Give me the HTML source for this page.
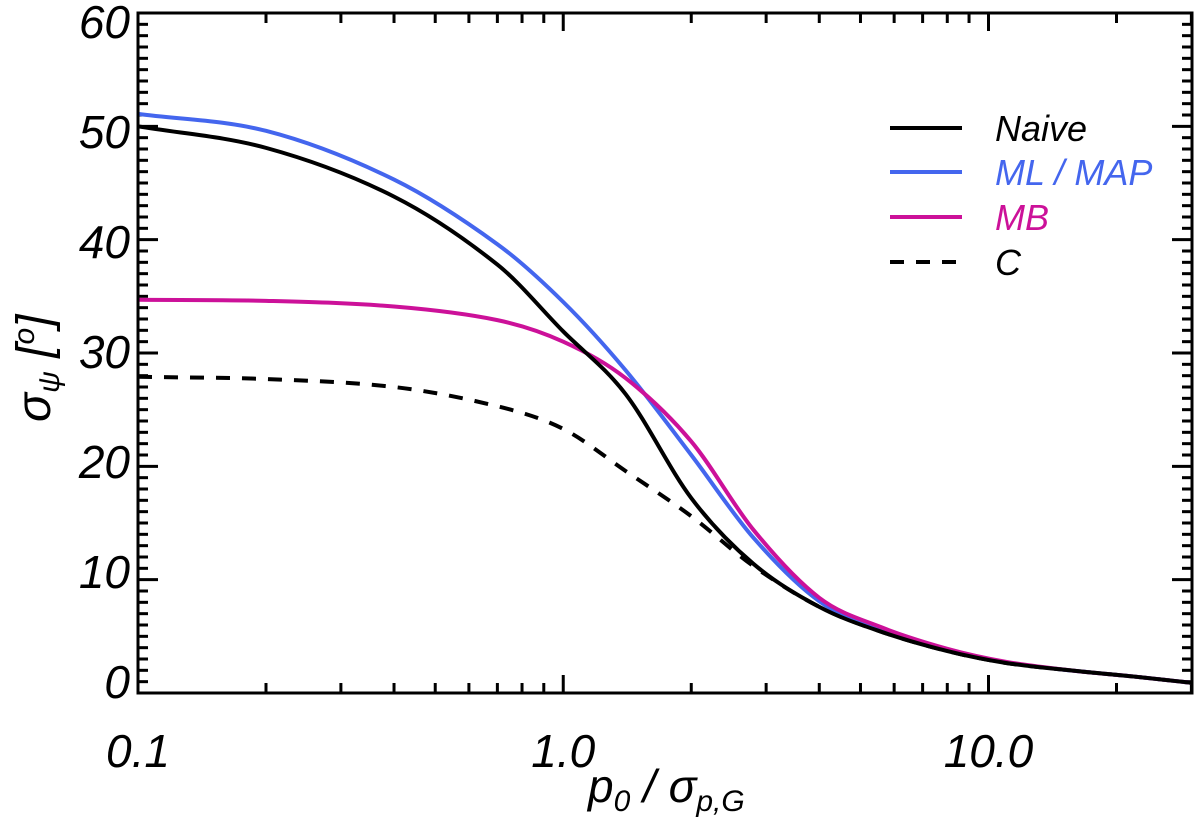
<!DOCTYPE html>
<html><head><meta charset="utf-8"><style>
html,body{margin:0;padding:0;background:#fff;}
svg{display:block;font-family:"Liberation Sans",sans-serif;font-style:italic;}
</style></head><body>
<svg id="chart" width="1200" height="828">
<g id="plot"></g>
<text x="588" y="802" font-size="46">p<tspan font-size="30" dy="9">0</tspan><tspan dy="-9"> / σ</tspan><tspan font-size="30" dy="9">p,G</tspan></text>
<text transform="translate(50,422) rotate(-90)" font-size="48">σ<tspan font-size="30" dy="9">ψ</tspan><tspan dy="-9"> [</tspan><tspan font-size="30" dy="-16">o</tspan><tspan dy="16">]</tspan></text>
</svg>
<script>
const xs = [0.1,0.2,0.4,0.7,1.0,1.4,2.0,2.8,4.0,5.6,8.0,11,16,22,30];
const naive = [50.0,48.1,43.8,37.8,31.9,26.4,17.2,11.4,7.6,5.4,3.7,2.65,1.95,1.45,0.9];
const mlmap = [51.1,49.6,45.3,39.6,34.5,28.5,21.0,13.7,8.1,5.6,3.8,2.7,1.95,1.45,0.9];
const mb = [34.7,34.6,34.1,32.9,31.0,27.8,22.2,14.4,8.4,5.8,3.9,2.75,1.95,1.45,0.9];
const cc = [27.9,27.7,27.0,25.3,23.3,19.6,15.6,11.2,7.6,5.4,3.7,2.65,1.95,1.45,0.9];
const yTicks = [0,10,20,30,40,50,60];
const xTickLabels = ["0.1","1.0","10.0"];
const xTickVals = [0.1,1,10];

const L=138,R=1192,T=13,B=693,xmin=0.1,xmax=30.1,ymin=0,ymax=60;
const X=v=>L+(Math.log10(v)-Math.log10(xmin))/(Math.log10(xmax)-Math.log10(xmin))*(R-L);
const Y=v=>B-(v-ymin)/(ymax-ymin)*(B-T);
const NS="http://www.w3.org/2000/svg";
const g=document.getElementById('plot');
function mk(tag,at,parent){const e=document.createElementNS(NS,tag);for(const k in at)e.setAttribute(k,at[k]);(parent||g).appendChild(e);return e;}
function path(vals){
  const p=xs.map((x,i)=>[X(x),Y(vals[i])]);
  let d=`M${p[0][0]},${p[0][1]}`;
  for(let i=0;i<p.length-1;i++){
    const p0=p[i-1]||p[i],p1=p[i],p2=p[i+1],p3=p[i+2]||p2;
    const h=p2[0]-p1[0];
    const m1=(p2[1]-p0[1])/(p2[0]-p0[0]), m2=(p3[1]-p1[1])/(p3[0]-p1[0]);
    d+=` C${p1[0]+h/3},${p1[1]+m1*h/3} ${p2[0]-h/3},${p2[1]-m2*h/3} ${p2[0]},${p2[1]}`;
  }
  return d;
}
for(let v=0;v<=60;v++){
  const major=v%10===0, y=Y(v);
  const len=major?20:10;
  let t=mk('line',{x1:L,x2:L+len,y1:y,y2:y,stroke:'#000','stroke-width':3});
  
  
  t=mk('line',{x1:R,x2:R-len,y1:y,y2:y,stroke:'#000','stroke-width':3});
  
  
}
for(let dec=0.1;dec<=10;dec*=10){
  for(let k=1;k<=9;k++){
    const v=dec*k; if(v>xmax) continue;
    const x=X(v), len=(k===1)?18:10;
    let t=mk('line',{x1:x,x2:x,y1:B,y2:B-len,stroke:'#000','stroke-width':3});
    
    
    t=mk('line',{x1:x,x2:x,y1:T,y2:T+len,stroke:'#000','stroke-width':3});
    
    
  }
}
yTicks.forEach(v=>{
  const t=mk('text',{x:L-8,y:38+(60-v)*11,'text-anchor':'end','font-size':46,fill:'#000'});
  t.textContent=v;
  
  
});
xTickVals.forEach((v,i)=>{
  const t=mk('text',{x:X(v),y:767,'text-anchor':'middle','font-size':46,fill:'#000'});
  t.textContent=xTickLabels[i];
  
  
});
const series=[[cc,'#000','14,12','series-c'],[mlmap,'#4466ee','','series-ml-map'],[mb,'#cc1199','','series-mb'],[naive,'#000','','series-naive']];
series.forEach(s=>{
  const p=mk('path',{d:path(s[0]),fill:'none',stroke:s[1],'stroke-width':4,'stroke-dasharray':s[2]});
  
  
});
const f=mk('rect',{x:L,y:T,width:R-L,height:B-T,fill:'none',stroke:'#000','stroke-width':3});


const leg=[['Naive','#000','',128],['ML / MAP','#4466ee','',172],['MB','#cc1199','',217],['C','#000','14,12',262]];
leg.forEach(l=>{
  const e=mk('line',{x1:890,x2:962,y1:l[3],y2:l[3],stroke:l[1],'stroke-width':4,'stroke-dasharray':l[2]});
  
  
  const t=mk('text',{x:995,y:l[3]+13,'font-size':36,fill:l[1]});
  t.textContent=l[0];
  
  
});
</script>
</body></html>
